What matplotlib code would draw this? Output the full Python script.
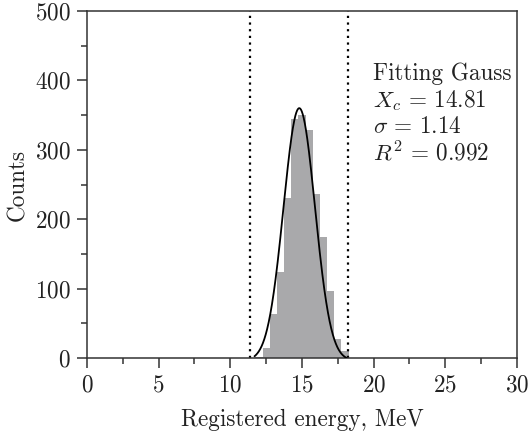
import numpy as np
import matplotlib
matplotlib.use("Agg")
import matplotlib.pyplot as plt
from matplotlib.ticker import MultipleLocator

plt.rcParams['font.family'] = 'serif'
plt.rcParams['font.serif'] = ['cmr10']
plt.rcParams['mathtext.fontset'] = 'cm'
plt.rcParams['axes.formatter.use_mathtext'] = True

# Histogram data (bin centers in MeV, counts)
bin_centers = [12.0, 12.5, 13.0, 13.5, 14.0, 14.5, 15.0, 15.5, 16.0, 16.5, 17.0, 17.5, 18.0]
counts = [2, 14, 63, 124, 231, 344, 350, 328, 236, 175, 96, 27, 10]
bin_width = 0.5

# Gaussian fit parameters
fit_xc = 14.81
fit_sigma = 1.14
fit_r2 = 0.992
curve_amp = 364
curve_sigma = 1.1
curve_y0 = -4
curve_range = (11.7, 18.1)

xticks = [0, 5, 10, 15, 20, 25, 30]
yticks = [0, 100, 200, 300, 400, 500]

fig = plt.figure(figsize=(5.31, 4.37), dpi=100)
ax = fig.add_axes([0.1638, 0.1808, 0.8098, 0.794])

ax.bar(bin_centers, counts, width=bin_width, color='#a9a9ab', edgecolor='none', zorder=1)

xc = np.linspace(curve_range[0], curve_range[1], 400)
yc = curve_y0 + curve_amp * np.exp(-(xc - fit_xc) ** 2 / (2 * curve_sigma ** 2))
ax.plot(xc, yc, color='black', lw=1.3, zorder=3)

for xv in (fit_xc - 3 * fit_sigma, fit_xc + 3 * fit_sigma):
    ax.axvline(xv, color='black', lw=1.6, linestyle=(0, (1, 2)), zorder=2)

ax.set_xlim(0, 30)
ax.set_ylim(0, 500)
ax.set_xticks(xticks)
ax.set_yticks(yticks)
ax.xaxis.set_minor_locator(MultipleLocator(2.5))
ax.yaxis.set_minor_locator(MultipleLocator(50))
ax.tick_params(which='major', direction='out', length=7, width=1.1, colors='#333333',
               labelsize=16.7, labelcolor='#222222', pad=5)
ax.tick_params(which='minor', direction='out', length=4.5, width=1.1, colors='#333333')
ax.tick_params(top=False, right=False)
for sp in ax.spines.values():
    sp.set_linewidth(1.1)
    sp.set_color('#333333')

ax.set_xlabel('Registered energy, MeV', fontsize=16.7, color='#222222', labelpad=9)
ax.set_ylabel('Counts', fontsize=16.7, color='#222222', labelpad=4)

tx = 19.95
fs = 16.7
ax.text(tx, 409, 'Fitting Gauss', fontsize=fs, va='center', ha='left', color='#222222')
ax.text(tx, 371, r'$X_c\,=\,%.2f$' % fit_xc, fontsize=fs, va='center', ha='left', color='#222222')
ax.text(tx, 333, r'$\sigma\,=\,%.2f$' % fit_sigma, fontsize=fs, va='center', ha='left', color='#222222')
ax.text(tx, 295, r'$R^2\,=\,%.3f$' % fit_r2, fontsize=fs, va='center', ha='left', color='#222222')

fig.savefig('out.png', dpi=100)
